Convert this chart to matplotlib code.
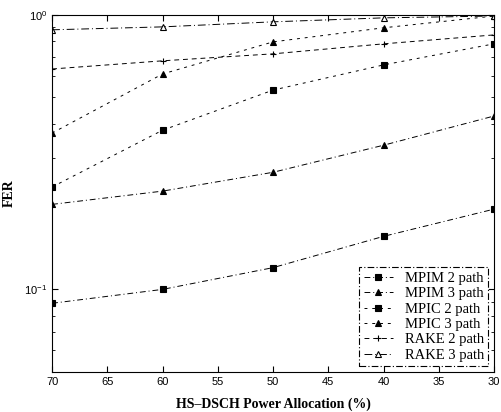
import numpy as np
import matplotlib
matplotlib.use("Agg")
import matplotlib.pyplot as plt
from matplotlib.ticker import LogLocator, NullFormatter

# power allocation (%) on the x axis, FER values
power = [70, 60, 50, 40, 30]
mpim_2 = [0.089, 0.100, 0.120, 0.156, 0.196]
mpim_3 = [0.204, 0.228, 0.267, 0.335, 0.428]
mpic_2 = [0.236, 0.380, 0.532, 0.657, 0.784]
mpic_3 = [0.371, 0.609, 0.797, 0.897, 0.990]
rake_2 = [0.635, 0.680, 0.721, 0.784, 0.845]
rake_3 = [0.882, 0.904, 0.943, 0.975, 0.990]

x_ticks = [70, 65, 60, 55, 50, 45, 40, 35, 30]

plt.rcParams.update({
    "font.family": "Liberation Sans",
    "font.size": 8,
})

fig = plt.figure(figsize=(5.01, 4.12), dpi=100)
ax = fig.add_axes([0.104, 0.097, 0.882, 0.867])

series = [
    ("MPIM 2 path", mpim_2, "s", "k", (0, (6, 3, 1, 3))),
    ("MPIM 3 path", mpim_3, "^", "k", (0, (6, 3, 1, 3))),
    ("MPIC 2 path", mpic_2, "s", "k", (0, (3, 5))),
    ("MPIC 3 path", mpic_3, "^", "k", (0, (3, 5))),
    ("RAKE 2 path", rake_2, "+", "k", (0, (5, 4))),
    ("RAKE 3 path", rake_3, "^", "w", (0, (8, 3, 1, 3))),
]

for label, vals, mk, face, ls in series:
    ax.plot(power, vals, color="black", lw=0.7, linestyle=ls,
            marker=mk, markersize=4.5, markerfacecolor=face,
            markeredgecolor="black", markeredgewidth=0.8, label=label)

ax.set_yscale("log")
ax.set_ylim(0.05, 1.0)
ax.set_xlim(70, 30)
ax.set_xticks(x_ticks)
ax.set_xticklabels([str(v) for v in x_ticks])
ax.yaxis.set_major_locator(LogLocator(base=10, numticks=5))
ax.yaxis.set_minor_locator(LogLocator(base=10, subs=np.arange(2, 10), numticks=10))
ax.yaxis.set_minor_formatter(NullFormatter())
ax.tick_params(direction="in", which="both", top=True, right=True)
ax.tick_params(which="major", length=4)
ax.tick_params(which="minor", length=2)

ax.set_xlabel("HS\u2013DSCH Power Allocation (%)", family="Liberation Serif",
              fontweight="bold", fontsize=10, labelpad=8)
ax.set_ylabel("FER", family="Liberation Serif", fontweight="bold",
              fontsize=10, labelpad=6)

leg = ax.legend(loc="lower right", prop={"family": "Liberation Serif", "size": 10.5},
                fancybox=False, edgecolor="black", framealpha=1,
                handlelength=2.0, borderaxespad=0.4, labelspacing=0.15,
                borderpad=0.3)
leg.get_frame().set_linewidth(0.8)
leg.get_frame().set_linestyle((0, (6, 2, 1, 2)))

fig.savefig("out.png", dpi=100)
